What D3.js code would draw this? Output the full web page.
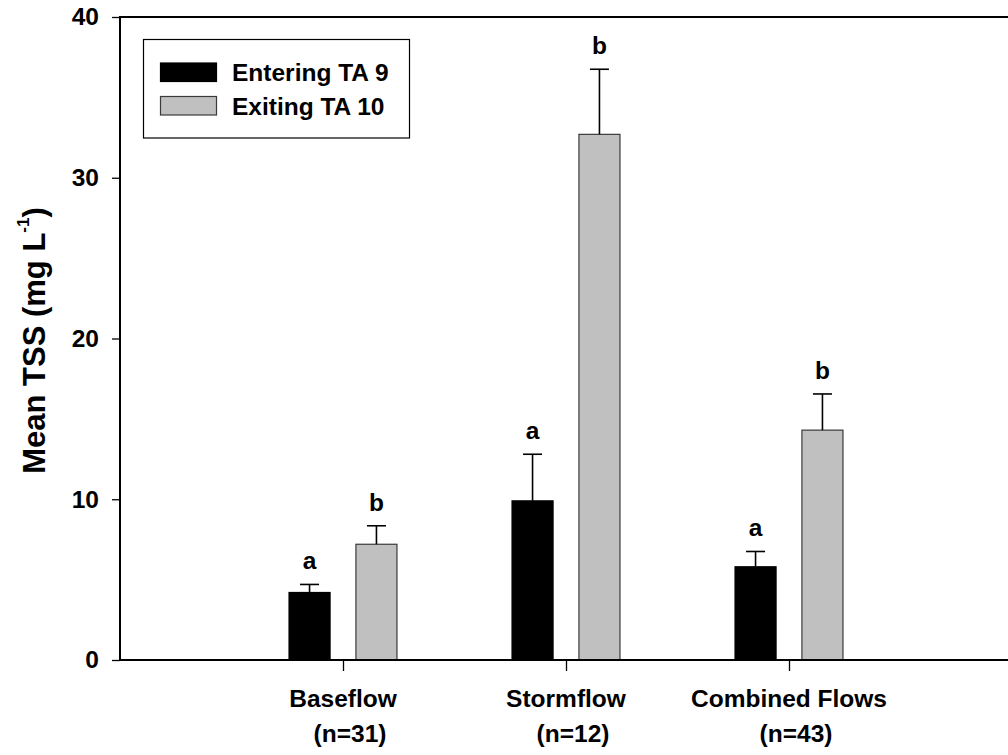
<!DOCTYPE html>
<html>
<head>
<meta charset="utf-8">
<script src="https://cdn.jsdelivr.net/npm/d3@7"></script>
<style>
  html, body { margin: 0; padding: 0; background: #fff; }
  svg { display: block; }
  text { font-family: "Liberation Sans", Arial, sans-serif; font-weight: bold; fill: #000; }
</style>
</head>
<body>
<svg id="chart" width="1008" height="755"></svg>
<script>
// Flow categories and sample sizes
const categories = ["Baseflow", "Stormflow", "Combined Flows"];
const sampleSizes = ["(n=31)", "(n=12)", "(n=43)"];

// Mean TSS (mg/L) and standard errors for each series
const seriesNames = ["Entering TA 9", "Exiting TA 10"];
const enteringMean = [4.2, 9.9, 5.8];
const enteringSE   = [0.5, 2.9, 0.95];
const exitingMean  = [7.2, 32.7, 14.3];
const exitingSE    = [1.15, 4.05, 2.25];

// Significance letters
const enteringLetters = ["a", "a", "a"];
const exitingLetters  = ["b", "b", "b"];

// Axis ticks
const yTicks = [0, 10, 20, 30, 40];

const svg = d3.select("#chart");
const plotLeft = 120, plotTop = 17, plotBottom = 660, plotRight = 1012;
const fontSize = "24.5px";

const x = d3.scaleLinear().domain([0, 4]).range([plotLeft, plotRight]);
const y = d3.scaleLinear().domain([0, 40]).range([plotBottom, plotTop]);

const barW = 0.184;   // bar width in category units
const offset = 0.15;  // distance of each bar centre from the category tick

const series = [
  { name: seriesNames[0], mean: enteringMean, se: enteringSE, letters: enteringLetters, fill: "#000000", stroke: "#000000", shift: -offset },
  { name: seriesNames[1], mean: exitingMean,  se: exitingSE,  letters: exitingLetters,  fill: "#c0c0c0", stroke: "#3a3a3a", shift: offset }
];

// Bars, error bars and letters
series.forEach(s => {
  const g = svg.append("g");
  const rows = categories.map((c, i) => ({ i, m: s.mean[i], e: s.se[i], l: s.letters[i] }));
  const cx = d => x(d.i + 1 + s.shift);
  const w = x(barW) - x(0);

  g.selectAll("rect").data(rows).join("rect")
    .attr("x", d => cx(d) - w / 2)
    .attr("y", d => y(d.m))
    .attr("width", w)
    .attr("height", d => y(0) - y(d.m))
    .attr("fill", s.fill)
    .attr("stroke", s.stroke)
    .attr("stroke-width", 1.2);

  g.selectAll("line.err").data(rows).join("line")
    .attr("class", "err")
    .attr("x1", cx).attr("x2", cx)
    .attr("y1", d => y(d.m)).attr("y2", d => y(d.m + d.e))
    .attr("stroke", "#000").attr("stroke-width", 1.6);

  g.selectAll("line.cap").data(rows).join("line")
    .attr("class", "cap")
    .attr("x1", d => cx(d) - 9.5).attr("x2", d => cx(d) + 9.5)
    .attr("y1", d => y(d.m + d.e)).attr("y2", d => y(d.m + d.e))
    .attr("stroke", "#000").attr("stroke-width", 1.6);

  g.selectAll("text").data(rows).join("text")
    .attr("x", cx)
    .attr("y", d => y(d.m + d.e) - 15)
    .attr("text-anchor", "middle")
    .style("font-size", fontSize)
    .text(d => d.l);
});

// Y axis ticks and labels
const yAxis = d3.axisLeft(y).tickValues(yTicks).tickSize(8).tickPadding(13).tickFormat(d3.format("d"));
const gy = svg.append("g").attr("transform", `translate(${plotLeft},0)`).call(yAxis);
gy.select(".domain").remove();
gy.selectAll(".tick line").attr("stroke", "#000").attr("stroke-width", 1.3);
gy.selectAll(".tick text").style("font-size", fontSize).style("font-family", "'Liberation Sans', Arial, sans-serif").style("font-weight", "bold").attr("fill", "#000");

// X axis ticks
const xAxis = d3.axisBottom(x).tickValues([1, 2, 3]).tickSize(11).tickFormat("");
const gx = svg.append("g").attr("transform", `translate(0,${plotBottom})`).call(xAxis);
gx.select(".domain").remove();
gx.selectAll(".tick line").attr("stroke", "#000").attr("stroke-width", 1.3);

// Two-line category labels
const catLabels = svg.append("g");
categories.forEach((c, i) => {
  catLabels.append("text")
    .attr("x", x(i + 1)).attr("y", 707)
    .attr("text-anchor", "middle").style("font-size", fontSize)
    .text(c);
  catLabels.append("text")
    .attr("x", x(i + 1) + 7).attr("y", 742)
    .attr("text-anchor", "middle").style("font-size", fontSize)
    .text(sampleSizes[i]);
});

// Frame: left axis, bottom axis, top and right borders
const frame = svg.append("g").attr("stroke", "#000").attr("stroke-width", 2).attr("fill", "none");
frame.append("line").attr("x1", plotLeft).attr("x2", plotLeft).attr("y1", plotTop - 1).attr("y2", plotBottom + 1);
frame.append("line").attr("x1", plotLeft).attr("x2", plotRight).attr("y1", plotBottom).attr("y2", plotBottom);
frame.append("line").attr("x1", plotLeft).attr("x2", plotRight).attr("y1", plotTop).attr("y2", plotTop);
frame.append("line").attr("x1", plotRight).attr("x2", plotRight).attr("y1", plotTop).attr("y2", plotBottom);

// Y axis title
const yTitle = svg.append("text")
  .attr("transform", `translate(45,${(plotTop + plotBottom) / 2 + 2}) rotate(-90)`)
  .attr("text-anchor", "middle")
  .style("font-size", "31px");
yTitle.append("tspan").text("Mean TSS (mg L");
yTitle.append("tspan").attr("dy", -16).style("font-size", "17px").text("-1");
yTitle.append("tspan").attr("dy", 16).text(")");

// Legend
const legend = svg.append("g");
legend.append("rect")
  .attr("x", 143.5).attr("y", 39.5).attr("width", 266).attr("height", 98.5)
  .attr("fill", "#fff").attr("stroke", "#000").attr("stroke-width", 1.2);
series.forEach((s, i) => {
  const yy = 63 + i * 33.5;
  legend.append("rect")
    .attr("x", 160.5).attr("y", yy).attr("width", 56).attr("height", 18.5)
    .attr("fill", s.fill).attr("stroke", s.stroke).attr("stroke-width", 1.2);
  legend.append("text")
    .attr("x", 232).attr("y", yy + 18)
    .style("font-size", fontSize)
    .text(s.name);
});
</script>
</body>
</html>
